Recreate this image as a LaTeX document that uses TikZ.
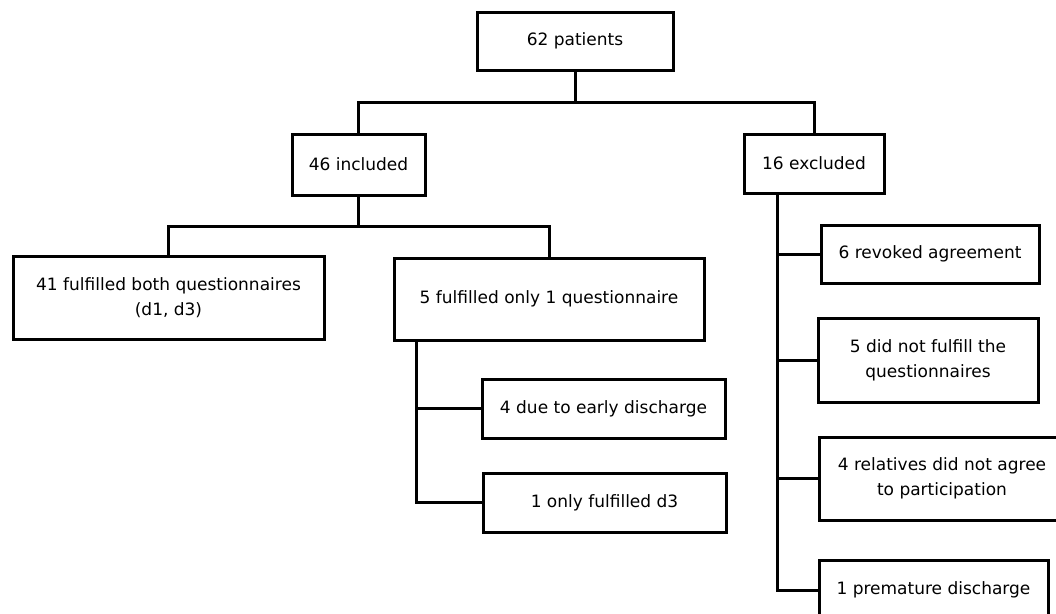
\documentclass[tikz,border=0pt]{standalone}
\usepackage{fontspec}
\setmainfont{DejaVu Sans}
\begin{document}
\begin{tikzpicture}[x=1pt,y=-1pt,line width=3pt,
	box/.style={draw,align=center,inner sep=0pt,font=\fontsize{17}{25}\selectfont}]
\newcommand{\flowbox}[5]{\node[box,minimum width=#3pt,minimum height=#4pt] (#1) at #2 {#5};}
\useasboundingbox (0,0) rectangle (1056,613);

\flowbox{pat}{(575,41)}{196}{58}{62 patients}
\flowbox{inc}{(358.5,164.5)}{133}{61}{46 included}
\flowbox{exc}{(814,163.5)}{140}{59}{16 excluded}
\flowbox{both}{(168.5,297.5)}{311}{83}{41 fulfilled both questionnaires\\(d1, d3)}
\flowbox{one}{(549,299)}{310}{82}{5 fulfilled only 1 questionnaire}
\flowbox{early}{(603.5,408.5)}{243}{59}{4 due to early discharge}
\flowbox{dthree}{(604.5,502.5)}{243}{59}{1 only fulfilled d3}
\flowbox{revoked}{(930,254)}{218}{58}{6 revoked agreement}
\flowbox{notful}{(928,360)}{220}{84}{5 did not fulfill the\\questionnaires}
\flowbox{relat}{(942,478.5)}{246}{83}{4 relatives did not agree\\to participation}
\flowbox{prem}{(933.5,590)}{229}{60}{1 premature discharge}

\coordinate (busA) at ([yshift=-31pt]pat.south);
\coordinate (busB) at ([yshift=-30pt]inc.south);
\coordinate (spineA) at ([xshift=24pt]one.south west);
\coordinate (spineB) at ([xshift=35pt]exc.south west);

\draw (pat.south)--(busA) (inc.north) |- (busA) -| (exc.north);
\draw (inc.south)--(busB) (both.north) |- (busB) -| (one.north);
\draw (spineA) |- (dthree.west) (spineA |- early.west)--(early.west);
\draw (spineB) |- (prem.west)
	(spineB |- revoked.west)--(revoked.west)
	(spineB |- notful.west)--(notful.west)
	(spineB |- relat.west)--(relat.west);
\end{tikzpicture}
\end{document}
